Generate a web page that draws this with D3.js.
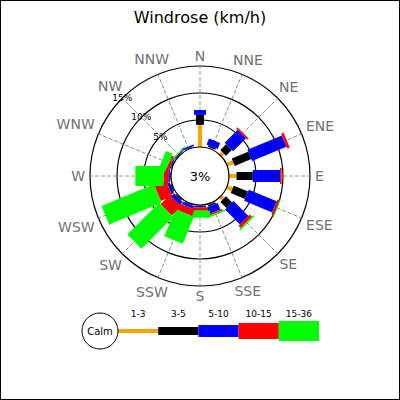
<!DOCTYPE html>
<html>
  <head>
    <meta charset="utf-8">
    <script src="https://d3js.org/d3.v7.min.js"></script>
    <style>
      body { margin: 0; background: white; }
      text { font-family: "DejaVu Sans", sans-serif; }
    </style>
  </head>
  <body>
    <div id="chart"></div>
    <script>
      // wind directions, clockwise from north
      var directions = ['N','NNE','NE','ENE','E','ESE','SE','SSE','S','SSW','SW','WSW','W','WNW','NW','NNW']
      var speedBins = ['1-3','3-5','5-10','10-15','15-36']
      var binColors = ['orange','black','blue','red','#00ff00']

      // frequency (%) per direction for each speed class
      var freq_1_3   = [4.1, 0.2, 0.7, 1.3, 1.4, 1.1, 0.7, 0.2, 0.1, 0.1, 0.1, 0.1, 0.1, 0.1, 0.05, 0.1]
      var freq_3_5   = [1.85, 0.3, 1.5, 3.3, 3.0, 2.85, 1.6, 0.3, 0.05, 0.1, 0.2, 0.2, 0.1, 0.1, 0.05, 0.1]
      var freq_5_10  = [0.9, 1.2, 3.4, 6.9, 5.05, 5.6, 3.9, 1.3, 0.3, 0.55, 0.8, 0.5, 0.3, 0.2, 0.2, 0.3]
      var freq_10_15 = [0, 0, 0.3, 0.5, 0.3, 0.4, 0.55, 0.3, 0.6, 1.3, 2.4, 2.3, 0.9, 0.5, 0.05, 0]
      var freq_15_36 = [0, 0, 0, 0, 0, 0.2, 0.3, 0.3, 1.3, 5.4, 8.3, 10.5, 5.2, 1.3, 0.2, 0.05]
      var calmPct = 3
      var ringTicks = [5, 10, 15]

      var series = [freq_1_3, freq_3_5, freq_5_10, freq_10_15, freq_15_36]

      var width = 400, height = 400
      var cx = 200, cy = 176

      var svg = d3.select('#chart').append('svg')
        .attr('width', width)
        .attr('height', height)

      svg.append('rect')
        .attr('x', 0.5).attr('y', 0.5)
        .attr('width', width - 1).attr('height', height - 1)
        .attr('fill', 'white')
        .attr('stroke', 'black')

      svg.append('text')
        .attr('x', cx)
        .attr('y', 23)
        .attr('text-anchor', 'middle')
        .style('font-size', '16px')
        .text('Windrose (km/h)')

      // radial scale: percent -> pixels from centre (calm circle at 0)
      var r = d3.scaleLinear().domain([0, 15]).range([29, 110])
      // bar thickness per speed class
      var barWidth = d3.scaleOrdinal().domain(speedBins).range([4, 8, 12, 16, 20])
      var color = d3.scaleOrdinal().domain(speedBins).range(binColors)
      var angle = d3.scalePoint().domain(directions).range([0, 360 - 22.5])

      var rose = svg.append('g').attr('transform', 'translate(' + cx + ',' + cy + ')')

      // rings
      rose.selectAll('.ring')
        .data(ringTicks)
        .enter().append('circle')
        .attr('class', 'ring')
        .attr('r', function(d){ return r(d) })
        .attr('fill', 'none')
        .attr('stroke', 'black')
        .attr('stroke-width', 1.2)

      // spokes
      rose.selectAll('.spoke')
        .data(directions)
        .enter().append('line')
        .attr('class', 'spoke')
        .attr('transform', function(d){ return 'rotate(' + angle(d) + ')' })
        .attr('y1', -r(0))
        .attr('y2', -r(15))
        .attr('stroke', '#55995a')
        .attr('stroke-width', 0.8)
        .attr('stroke-dasharray', '4,2')

      // stacked bars
      directions.forEach(function(dir, i){
        var g = rose.append('g').attr('transform', 'rotate(' + angle(dir) + ')')
        var cum = 0
        speedBins.forEach(function(bin, j){
          var v = series[j][i]
          if (v > 0) {
            g.append('rect')
              .attr('x', -barWidth(bin) / 2)
              .attr('width', barWidth(bin))
              .attr('y', -r(cum + v))
              .attr('height', r(cum + v) - r(cum))
              .attr('fill', color(bin))
          }
          cum += v
        })
      })

      // calm circle
      rose.append('circle')
        .attr('r', r(0))
        .attr('fill', 'white')
        .attr('stroke', 'black')
        .attr('stroke-width', 1.2)
      rose.append('text')
        .attr('dy', '0.35em')
        .attr('text-anchor', 'middle')
        .style('font-size', '13px')
        .text(calmPct + '%')

      // ring labels along NW
      rose.selectAll('.ringlabel')
        .data(ringTicks)
        .enter().append('text')
        .attr('class', 'ringlabel')
        .attr('x', function(d){ return r(d) * Math.cos(225 * Math.PI / 180) })
        .attr('y', function(d){ return r(d) * Math.sin(225 * Math.PI / 180) })
        .attr('dy', '0.35em')
        .attr('text-anchor', 'middle')
        .style('font-size', '9px')
        .text(function(d){ return d + '%' })

      // direction labels, box pushed out so its near edge sits on a circle
      var labelR = 115
      rose.selectAll('.dirlabel')
        .data(directions)
        .enter().append('text')
        .attr('class', 'dirlabel')
        .attr('dy', '0.35em')
        .attr('text-anchor', 'middle')
        .style('font-size', '14px')
        .style('fill', '#707070')
        .text(function(d){ return d })
        .each(function(d){
          var a = angle(d) * Math.PI / 180
          var s = Math.sin(a), c = Math.cos(a)
          var w = this.getComputedTextLength()
          var rr = labelR + (w / 2) * Math.abs(s) + 5 * Math.abs(c)
          d3.select(this)
            .attr('x', rr * s)
            .attr('y', -rr * c)
        })

      // legend
      var legend = svg.append('g').attr('transform', 'translate(100,331)')
      var lx = d3.scaleBand().domain(speedBins).range([18, 219])

      legend.selectAll('.lbar')
        .data(speedBins)
        .enter().append('rect')
        .attr('class', 'lbar')
        .attr('x', function(d){ return lx(d) })
        .attr('width', lx.bandwidth())
        .attr('y', function(d){ return -barWidth(d) / 2 })
        .attr('height', function(d){ return barWidth(d) })
        .attr('fill', function(d){ return color(d) })

      legend.selectAll('.ltext')
        .data(speedBins)
        .enter().append('text')
        .attr('class', 'ltext')
        .attr('x', function(d){ return lx(d) + lx.bandwidth() / 2 })
        .attr('y', -17)
        .attr('dy', '0.35em')
        .attr('text-anchor', 'middle')
        .style('font-size', '9px')
        .text(function(d){ return d })

      legend.append('circle')
        .attr('r', 18)
        .attr('fill', 'white')
        .attr('stroke', 'black')
      legend.append('text')
        .attr('dy', '0.35em')
        .attr('text-anchor', 'middle')
        .style('font-size', '10px')
        .text('Calm')
    </script>
  </body>
</html>
